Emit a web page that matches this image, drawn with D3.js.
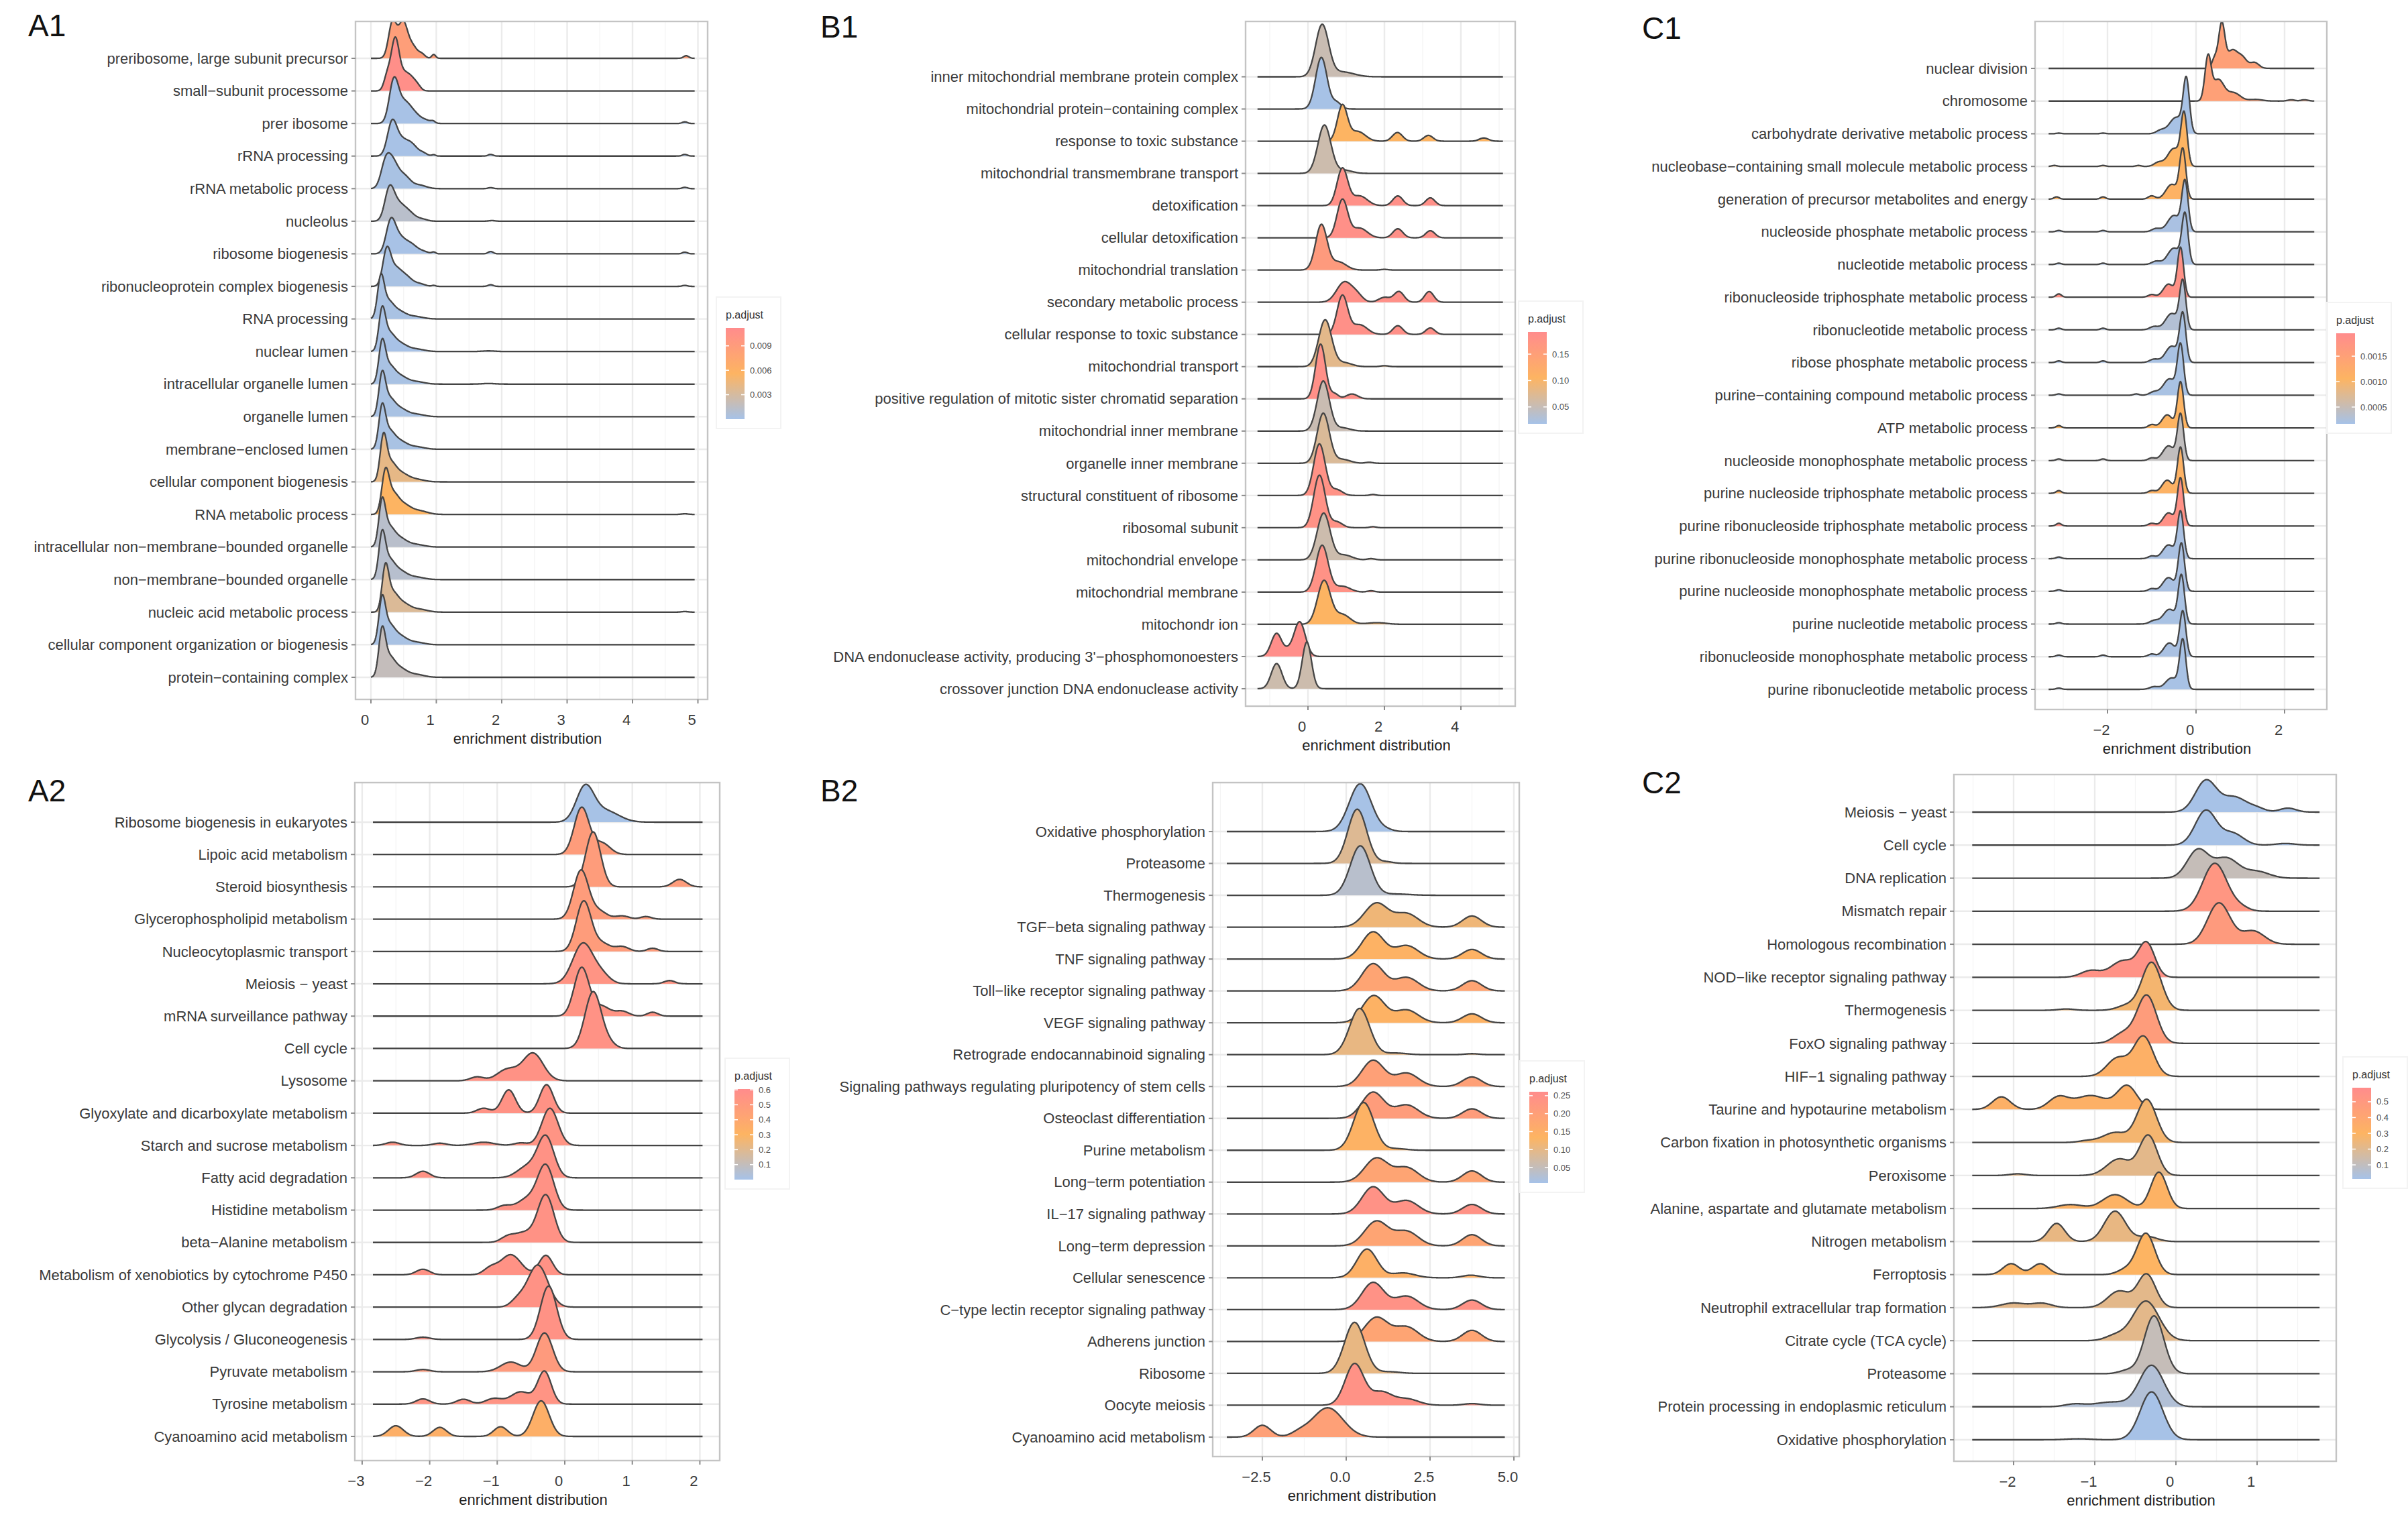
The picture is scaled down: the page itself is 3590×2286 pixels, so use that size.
<!DOCTYPE html>
<html>
<head>
<meta charset="utf-8">
<script src="https://cdn.jsdelivr.net/npm/d3@7"></script>
<style>
  body { margin: 0; background: #fff; }
  text { font-family: "Liberation Sans", Arial, sans-serif; }
</style>
</head>
<body>
<div id="chart"></div>
<script>
// ---- data ----
// each ridge is a list of bumps: [position, height (rows), spread]

// A1
const a1Terms = ["preribosome, large subunit precursor", "small\u2212subunit processome", "prer ibosome", "rRNA processing",
  "rRNA metabolic process", "nucleolus", "ribosome biogenesis", "ribonucleoprotein complex biogenesis", "RNA processing",
  "nuclear lumen", "intracellular organelle lumen", "organelle lumen", "membrane\u2212enclosed lumen",
  "cellular component biogenesis", "RNA metabolic process", "intracellular non\u2212membrane\u2212bounded organelle",
  "non\u2212membrane\u2212bounded organelle", "nucleic acid metabolic process", "cellular component organization or biogenesis",
  "protein\u2212containing complex"];
const a1Padj = [0.0087, 0.0108, 0.0001, 0.0001, 0.0002, 0.0012, 0.0001, 0.0002, 0.0002, 0.0001,
  0.0002, 0.0002, 0.0002, 0.0041, 0.0056, 0.0012, 0.0011, 0.0034, 0.0002, 0.0019];
const a1Peaks = [
  [[0.33, 1.1, 0.06], [0.49, 1.1, 0.07], [0.64, 0.35, 0.07], [0.78, 0.12, 0.05], [0.96, 0.12, 0.03], [4.82, 0.08, 0.04]],
  [[0.37, 1.55, 0.06], [0.25, 0.45, 0.05], [0.5, 0.45, 0.07], [0.62, 0.35, 0.07], [0.72, 0.1, 0.05]],
  [[0.35, 1.28, 0.07], [0.5, 0.55, 0.09], [0.65, 0.3, 0.1], [0.85, 0.08, 0.08], [0.95, 0.05, 0.03], [4.8, 0.05, 0.04]],
  [[0.32, 0.95, 0.07], [0.45, 0.45, 0.09], [0.62, 0.35, 0.09], [0.8, 0.08, 0.06], [0.96, 0.04, 0.03], [1.83, 0.05, 0.04], [4.8, 0.05, 0.04]],
  [[0.22, 0.7, 0.07], [0.33, 0.7, 0.08], [0.5, 0.4, 0.1], [0.75, 0.1, 0.1], [1.83, 0.03, 0.04], [4.8, 0.04, 0.04]],
  [[0.28, 0.9, 0.07], [0.4, 0.45, 0.09], [0.56, 0.3, 0.1], [0.78, 0.06, 0.08], [1.85, 0.02, 0.05]],
  [[0.3, 0.9, 0.07], [0.42, 0.45, 0.09], [0.6, 0.3, 0.1], [0.8, 0.06, 0.08], [0.96, 0.05, 0.03], [1.83, 0.07, 0.04], [4.8, 0.05, 0.04]],
  [[0.24, 1.0, 0.06], [0.36, 0.5, 0.09], [0.53, 0.3, 0.1], [0.75, 0.07, 0.08], [0.96, 0.03, 0.03], [1.83, 0.05, 0.04], [4.8, 0.03, 0.04]],
  [[0.15, 1.15, 0.05], [0.25, 0.44, 0.08], [0.4, 0.26, 0.12], [0.68, 0.07, 0.12]],
  [[0.17, 1.15, 0.05], [0.27, 0.45, 0.08], [0.42, 0.27, 0.12], [0.7, 0.07, 0.12], [1.8, 0.02, 0.1]],
  [[0.17, 1.15, 0.05], [0.27, 0.45, 0.08], [0.42, 0.27, 0.12], [0.7, 0.07, 0.12], [1.8, 0.02, 0.1]],
  [[0.17, 1.17, 0.05], [0.27, 0.45, 0.08], [0.42, 0.27, 0.12], [0.7, 0.07, 0.12]],
  [[0.17, 1.17, 0.05], [0.27, 0.45, 0.08], [0.42, 0.27, 0.12], [0.7, 0.07, 0.12]],
  [[0.19, 1.25, 0.05], [0.29, 0.48, 0.08], [0.44, 0.28, 0.12], [0.7, 0.07, 0.12]],
  [[0.22, 1.2, 0.055], [0.33, 0.5, 0.08], [0.48, 0.32, 0.12], [0.75, 0.1, 0.12], [4.8, 0.02, 0.05]],
  [[0.17, 1.26, 0.05], [0.27, 0.49, 0.08], [0.42, 0.29, 0.12], [0.7, 0.07, 0.12]],
  [[0.17, 1.26, 0.05], [0.27, 0.49, 0.08], [0.42, 0.29, 0.12], [0.7, 0.07, 0.12]],
  [[0.22, 1.25, 0.05], [0.32, 0.48, 0.08], [0.47, 0.29, 0.12], [0.75, 0.08, 0.12], [4.8, 0.02, 0.05]],
  [[0.17, 1.26, 0.05], [0.27, 0.49, 0.08], [0.42, 0.29, 0.12], [0.7, 0.07, 0.12]],
  [[0.17, 1.3, 0.05], [0.27, 0.5, 0.08], [0.42, 0.3, 0.12], [0.7, 0.08, 0.12]]
];
const a1Range = [0, 4.95];
const a1Ticks = [0, 1, 2, 3, 4, 5];
const a1LegendTicks = [0.003, 0.006, 0.009];
const a1LegendDomain = [0, 0.0112];

// B1
const b1Terms = ["inner mitochondrial membrane protein complex", "mitochondrial protein\u2212containing complex",
  "response to toxic substance", "mitochondrial transmembrane transport", "detoxification", "cellular detoxification",
  "mitochondrial translation", "secondary metabolic process", "cellular response to toxic substance",
  "mitochondrial transport", "positive regulation of mitotic sister chromatid separation", "mitochondrial inner membrane",
  "organelle inner membrane", "structural constituent of ribosome", "ribosomal subunit", "mitochondrial envelope",
  "mitochondrial membrane", "mitochondr ion", "DNA endonuclease activity, producing 3'\u2212phosphomonoesters",
  "crossover junction DNA endonuclease activity"];
const b1Padj = [0.053, 0.019, 0.105, 0.056, 0.183, 0.183, 0.161, 0.183, 0.183, 0.079,
  0.183, 0.053, 0.070, 0.180, 0.180, 0.056, 0.180, 0.105, 0.187, 0.056];
const b1Peaks = [
  [[0.37, 1.6, 0.17], [0.9, 0.15, 0.3]],
  [[0.35, 1.6, 0.15], [0.75, 0.2, 0.12]],
  [[0.9, 1.1, 0.13], [1.3, 0.3, 0.2], [2.34, 0.27, 0.13], [3.15, 0.18, 0.12], [4.6, 0.1, 0.12]],
  [[0.43, 1.5, 0.17], [0.95, 0.1, 0.2]],
  [[0.9, 1.15, 0.14], [1.35, 0.3, 0.2], [2.35, 0.3, 0.13], [3.2, 0.24, 0.12]],
  [[0.9, 1.18, 0.14], [1.35, 0.3, 0.2], [2.35, 0.28, 0.13], [3.2, 0.22, 0.12]],
  [[0.35, 1.4, 0.15], [0.8, 0.25, 0.2], [2.0, 0.02, 0.1]],
  [[0.95, 0.62, 0.2], [1.28, 0.2, 0.15], [2.0, 0.15, 0.15], [2.38, 0.33, 0.13], [3.17, 0.33, 0.12]],
  [[0.9, 1.2, 0.14], [1.35, 0.3, 0.2], [2.35, 0.27, 0.13], [3.2, 0.2, 0.12]],
  [[0.45, 1.45, 0.17], [0.95, 0.12, 0.2], [2.0, 0.03, 0.1]],
  [[0.33, 1.7, 0.13], [0.7, 0.15, 0.1], [1.15, 0.15, 0.15]],
  [[0.4, 1.55, 0.16], [0.9, 0.1, 0.2]],
  [[0.4, 1.55, 0.16], [0.9, 0.12, 0.2], [1.6, 0.03, 0.1]],
  [[0.3, 1.6, 0.15], [0.75, 0.18, 0.15], [1.7, 0.03, 0.08]],
  [[0.3, 1.63, 0.15], [0.75, 0.18, 0.15], [1.7, 0.03, 0.08]],
  [[0.41, 1.45, 0.17], [0.95, 0.15, 0.2], [1.65, 0.04, 0.1]],
  [[0.37, 1.45, 0.16], [0.9, 0.18, 0.2], [1.65, 0.04, 0.1]],
  [[0.42, 1.35, 0.17], [0.9, 0.3, 0.2], [1.8, 0.05, 0.25]],
  [[-0.82, 0.72, 0.14], [-0.22, 1.08, 0.15], [-0.52, 0.12, 0.1]],
  [[-0.82, 0.78, 0.14], [-0.03, 1.45, 0.12]]
];
const b1Range = [-1.32, 5.1];
const b1Ticks = [0, 2, 4];
const b1LegendTicks = [0.05, 0.10, 0.15];
const b1LegendDomain = [0.018, 0.192];

// C1
const c1Terms = ["nuclear division", "chromosome", "carbohydrate derivative metabolic process",
  "nucleobase\u2212containing small molecule metabolic process", "generation of precursor metabolites and energy",
  "nucleoside phosphate metabolic process", "nucleotide metabolic process", "ribonucleoside triphosphate metabolic process",
  "ribonucleotide metabolic process", "ribose phosphate metabolic process", "purine\u2212containing compound metabolic process",
  "ATP metabolic process", "nucleoside monophosphate metabolic process", "purine nucleoside triphosphate metabolic process",
  "purine ribonucleoside triphosphate metabolic process", "purine ribonucleoside monophosphate metabolic process",
  "purine nucleoside monophosphate metabolic process", "purine nucleotide metabolic process",
  "ribonucleoside monophosphate metabolic process", "purine ribonucleotide metabolic process"];
const c1Padj = [0.00150, 0.00150, 0.00019, 0.00106, 0.00110, 0.00021, 0.00021, 0.00183, 0.00030, 0.00020,
  0.00020, 0.00106, 0.00045, 0.00110, 0.00183, 0.00021, 0.00021, 0.00020, 0.00021, 0.00019];
const c1Peaks = [
  [[0.58, 1.35, 0.07], [0.42, 0.3, 0.06], [0.82, 0.55, 0.12], [1.05, 0.3, 0.1], [1.32, 0.18, 0.1]],
  [[0.27, 1.3, 0.07], [0.5, 0.65, 0.13], [0.85, 0.25, 0.15], [1.35, 0.05, 0.15], [2.15, 0.04, 0.08], [2.45, 0.04, 0.08]],
  [[-0.22, 1.6, 0.07], [-0.45, 0.5, 0.15], [-0.8, 0.1, 0.1], [-2.1, 0.02, 0.06], [-3.1, 0.02, 0.06]],
  [[-0.27, 1.55, 0.07], [-0.5, 0.55, 0.14], [-0.85, 0.12, 0.1], [-3.2, 0.03, 0.06], [-2.1, 0.03, 0.06], [-1.3, 0.03, 0.06]],
  [[-0.3, 1.5, 0.07], [-0.55, 0.45, 0.13], [-1.0, 0.1, 0.08], [-3.15, 0.07, 0.06], [-2.1, 0.07, 0.06]],
  [[-0.25, 1.5, 0.07], [-0.5, 0.5, 0.14], [-0.9, 0.1, 0.1], [-3.1, 0.04, 0.06], [-2.1, 0.04, 0.06]],
  [[-0.25, 1.5, 0.07], [-0.5, 0.5, 0.14], [-0.9, 0.1, 0.1], [-3.1, 0.04, 0.06], [-2.1, 0.04, 0.06]],
  [[-0.35, 1.5, 0.07], [-0.62, 0.4, 0.12], [-1.0, 0.08, 0.08], [-3.1, 0.1, 0.06]],
  [[-0.3, 1.45, 0.07], [-0.55, 0.5, 0.14], [-0.95, 0.1, 0.1], [-3.1, 0.05, 0.06], [-2.1, 0.05, 0.06]],
  [[-0.3, 1.45, 0.07], [-0.55, 0.5, 0.14], [-0.95, 0.1, 0.1], [-3.1, 0.05, 0.06], [-2.1, 0.05, 0.06]],
  [[-0.35, 1.5, 0.07], [-0.6, 0.5, 0.14], [-0.95, 0.1, 0.1], [-3.1, 0.04, 0.06], [-1.35, 0.04, 0.06]],
  [[-0.35, 1.4, 0.07], [-0.65, 0.4, 0.12], [-1.0, 0.1, 0.08], [-3.1, 0.07, 0.06]],
  [[-0.35, 1.4, 0.07], [-0.62, 0.45, 0.13], [-1.0, 0.08, 0.08], [-3.1, 0.05, 0.06], [-2.1, 0.05, 0.06]],
  [[-0.35, 1.4, 0.07], [-0.65, 0.4, 0.12], [-1.0, 0.08, 0.08], [-3.1, 0.08, 0.06]],
  [[-0.35, 1.45, 0.07], [-0.62, 0.4, 0.12], [-1.0, 0.08, 0.08], [-3.1, 0.08, 0.06]],
  [[-0.35, 1.42, 0.07], [-0.62, 0.42, 0.13], [-1.0, 0.08, 0.08], [-3.1, 0.05, 0.06]],
  [[-0.33, 1.45, 0.07], [-0.62, 0.42, 0.13], [-1.0, 0.08, 0.08], [-3.1, 0.05, 0.06]],
  [[-0.33, 1.45, 0.07], [-0.6, 0.45, 0.14], [-0.95, 0.1, 0.1], [-3.1, 0.04, 0.06]],
  [[-0.3, 1.38, 0.07], [-0.6, 0.42, 0.13], [-1.0, 0.08, 0.08], [-3.1, 0.05, 0.06], [-2.1, 0.05, 0.06]],
  [[-0.3, 1.48, 0.07], [-0.55, 0.35, 0.14], [-0.95, 0.08, 0.1], [-3.1, 0.04, 0.06]]
];
const c1Range = [-3.33, 2.67];
const c1Ticks = [-2, 0, 2];
const c1LegendTicks = [0.0005, 0.0010, 0.0015];
const c1LegendDomain = [0.00017, 0.00195];

// A2
const a2Terms = ["Ribosome biogenesis in eukaryotes", "Lipoic acid metabolism", "Steroid biosynthesis",
  "Glycerophospholipid metabolism", "Nucleocytoplasmic transport", "Meiosis \u2212 yeast", "mRNA surveillance pathway",
  "Cell cycle", "Lysosome", "Glyoxylate and dicarboxylate metabolism", "Starch and sucrose metabolism",
  "Fatty acid degradation", "Histidine metabolism", "beta\u2212Alanine metabolism",
  "Metabolism of xenobiotics by cytochrome P450", "Other glycan degradation", "Glycolysis / Gluconeogenesis",
  "Pyruvate metabolism", "Tyrosine metabolism", "Cyanoamino acid metabolism"];
const a2Padj = [0.005, 0.484, 0.484, 0.484, 0.484, 0.545, 0.545, 0.557, 0.557, 0.557,
  0.545, 0.557, 0.557, 0.557, 0.557, 0.557, 0.557, 0.496, 0.545, 0.340];
const a2Peaks = [
  [[0.3, 1.05, 0.13], [0.6, 0.35, 0.2]],
  [[0.25, 1.45, 0.11], [0.55, 0.35, 0.12]],
  [[0.42, 1.7, 0.11], [1.7, 0.23, 0.1]],
  [[0.24, 1.5, 0.11], [0.5, 0.25, 0.12], [0.85, 0.1, 0.1], [1.2, 0.08, 0.08]],
  [[0.28, 1.55, 0.11], [0.55, 0.25, 0.12], [0.85, 0.15, 0.1], [1.3, 0.1, 0.08]],
  [[0.27, 1.25, 0.15], [0.55, 0.25, 0.12], [1.55, 0.1, 0.08]],
  [[0.25, 1.5, 0.11], [0.55, 0.3, 0.12], [0.85, 0.15, 0.1], [1.3, 0.12, 0.08]],
  [[0.42, 1.75, 0.12], [0.65, 0.15, 0.1]],
  [[-0.47, 0.85, 0.15], [-0.85, 0.35, 0.15], [-1.3, 0.12, 0.1]],
  [[-0.83, 0.72, 0.1], [-0.27, 0.88, 0.1], [-1.2, 0.15, 0.1]],
  [[-0.22, 1.15, 0.12], [-2.55, 0.1, 0.1], [-1.85, 0.07, 0.1], [-1.2, 0.1, 0.15], [-0.65, 0.08, 0.1]],
  [[-0.28, 1.25, 0.12], [-0.55, 0.35, 0.15], [-2.1, 0.2, 0.1]],
  [[-0.28, 1.35, 0.12], [-0.55, 0.35, 0.15], [-0.9, 0.13, 0.1]],
  [[-0.28, 1.45, 0.12], [-0.6, 0.3, 0.15], [-0.85, 0.15, 0.1]],
  [[-0.8, 0.62, 0.15], [-0.28, 0.6, 0.1], [-1.1, 0.2, 0.1], [-2.1, 0.17, 0.1]],
  [[-0.4, 1.3, 0.15], [-0.7, 0.2, 0.1]],
  [[-0.24, 1.65, 0.12], [-2.1, 0.07, 0.1]],
  [[-0.3, 1.2, 0.12], [-0.8, 0.3, 0.15], [-2.1, 0.07, 0.1]],
  [[-0.3, 1.0, 0.1], [-0.65, 0.38, 0.15], [-1.05, 0.17, 0.12], [-1.5, 0.15, 0.1], [-2.1, 0.16, 0.1]],
  [[-0.35, 1.1, 0.12], [-0.95, 0.3, 0.1], [-1.85, 0.28, 0.1], [-2.5, 0.33, 0.11]]
];
const a2Range = [-2.84, 2.04];
const a2Ticks = [-3, -2, -1, 0, 1, 2];
const a2LegendTicks = [0.1, 0.2, 0.3, 0.4, 0.5, 0.6];
const a2LegendDomain = [0, 0.605];

// B2
const b2Terms = ["Oxidative phosphorylation", "Proteasome", "Thermogenesis", "TGF\u2212beta signaling pathway",
  "TNF signaling pathway", "Toll\u2212like receptor signaling pathway", "VEGF signaling pathway",
  "Retrograde endocannabinoid signaling", "Signaling pathways regulating pluripotency of stem cells",
  "Osteoclast differentiation", "Purine metabolism", "Long\u2212term potentiation", "IL\u221217 signaling pathway",
  "Long\u2212term depression", "Cellular senescence", "C\u2212type lectin receptor signaling pathway",
  "Adherens junction", "Ribosome", "Oocyte meiosis", "Cyanoamino acid metabolism"];
const b2Padj = [0.009, 0.088, 0.034, 0.114, 0.139, 0.185, 0.139, 0.104, 0.198, 0.210,
  0.139, 0.185, 0.243, 0.185, 0.147, 0.243, 0.185, 0.104, 0.243, 0.198];
const b2Peaks = [
  [[0.42, 1.5, 0.33], [1.2, 0.05, 0.2]],
  [[0.33, 1.7, 0.28], [1.2, 0.05, 0.2]],
  [[0.42, 1.55, 0.3], [1.5, 0.04, 0.4]],
  [[0.9, 0.75, 0.35], [1.8, 0.42, 0.35], [3.75, 0.35, 0.28]],
  [[0.8, 0.85, 0.33], [1.8, 0.42, 0.35], [3.75, 0.3, 0.28]],
  [[0.8, 0.85, 0.33], [1.8, 0.42, 0.35], [3.75, 0.32, 0.28]],
  [[0.82, 0.85, 0.33], [1.8, 0.4, 0.35], [3.75, 0.28, 0.28]],
  [[0.4, 1.45, 0.3], [1.5, 0.05, 0.3], [3.75, 0.03, 0.2]],
  [[0.8, 0.82, 0.33], [1.8, 0.42, 0.35], [3.75, 0.3, 0.28]],
  [[0.8, 0.82, 0.33], [1.8, 0.42, 0.35], [3.75, 0.3, 0.28]],
  [[0.52, 1.5, 0.3], [1.5, 0.05, 0.3]],
  [[0.9, 0.75, 0.35], [1.8, 0.45, 0.35], [3.75, 0.35, 0.28]],
  [[0.8, 0.85, 0.33], [1.8, 0.42, 0.35], [3.75, 0.3, 0.28]],
  [[0.9, 0.77, 0.35], [1.8, 0.45, 0.35], [3.75, 0.35, 0.28]],
  [[0.62, 0.9, 0.3], [1.7, 0.15, 0.35], [3.72, 0.08, 0.25]],
  [[0.8, 0.85, 0.33], [1.8, 0.42, 0.35], [3.75, 0.3, 0.28]],
  [[0.9, 0.75, 0.35], [1.8, 0.45, 0.35], [3.75, 0.35, 0.28]],
  [[0.25, 1.6, 0.3], [1.3, 0.05, 0.3]],
  [[0.25, 1.3, 0.28], [1.05, 0.4, 0.3], [1.8, 0.2, 0.35], [3.75, 0.05, 0.25]],
  [[-0.55, 0.92, 0.45], [-2.5, 0.37, 0.25], [-1.4, 0.12, 0.25]]
];
const b2Range = [-3.56, 4.73];
const b2Ticks = [-2.5, 0, 2.5, 5];
const b2LegendTicks = [0.05, 0.10, 0.15, 0.20, 0.25];
const b2LegendDomain = [0.007, 0.261];

// C2
const c2Terms = ["Meiosis \u2212 yeast", "Cell cycle", "DNA replication", "Mismatch repair", "Homologous recombination",
  "NOD\u2212like receptor signaling pathway", "Thermogenesis", "FoxO signaling pathway", "HIF\u22121 signaling pathway",
  "Taurine and hypotaurine metabolism", "Carbon fixation in photosynthetic organisms", "Peroxisome",
  "Alanine, aspartate and glutamate metabolism", "Nitrogen metabolism", "Ferroptosis",
  "Neutrophil extracellular trap formation", "Citrate cycle (TCA cycle)", "Proteasome",
  "Protein processing in endoplasmic reticulum", "Oxidative phosphorylation"];
const c2Padj = [0.014, 0.014, 0.115, 0.520, 0.485, 0.549, 0.271, 0.473, 0.329, 0.329,
  0.271, 0.213, 0.312, 0.231, 0.300, 0.213, 0.213, 0.115, 0.050, 0.014];
const c2Peaks = [
  [[0.37, 0.95, 0.13], [0.72, 0.45, 0.15], [1.0, 0.1, 0.1], [1.38, 0.12, 0.1]],
  [[0.37, 1.05, 0.13], [0.7, 0.35, 0.13], [1.35, 0.05, 0.12]],
  [[0.27, 0.85, 0.13], [0.62, 0.6, 0.15], [1.0, 0.2, 0.15]],
  [[0.48, 1.45, 0.15], [0.8, 0.1, 0.1]],
  [[0.53, 1.25, 0.14], [0.95, 0.4, 0.14]],
  [[-0.36, 1.0, 0.1], [-0.65, 0.5, 0.15], [-1.05, 0.2, 0.12]],
  [[-0.3, 1.45, 0.12], [-0.6, 0.15, 0.12], [-1.35, 0.04, 0.1]],
  [[-0.36, 1.45, 0.12], [-0.65, 0.3, 0.12]],
  [[-0.4, 1.2, 0.12], [-0.72, 0.55, 0.13]],
  [[-0.6, 0.7, 0.12], [-1.05, 0.42, 0.2], [-1.45, 0.35, 0.12], [-2.15, 0.38, 0.11]],
  [[-0.36, 1.3, 0.12], [-0.75, 0.3, 0.15], [-1.1, 0.05, 0.1]],
  [[-0.34, 1.2, 0.11], [-0.7, 0.5, 0.15], [-1.95, 0.05, 0.1]],
  [[-0.21, 1.1, 0.1], [-0.75, 0.42, 0.15], [-1.3, 0.12, 0.15]],
  [[-0.75, 0.92, 0.13], [-1.47, 0.55, 0.1], [-0.35, 0.15, 0.12]],
  [[-0.37, 1.25, 0.11], [-2.03, 0.33, 0.1], [-1.67, 0.33, 0.1], [-0.62, 0.15, 0.1]],
  [[-0.36, 1.0, 0.11], [-0.7, 0.5, 0.14], [-2.0, 0.14, 0.15], [-1.65, 0.13, 0.12]],
  [[-0.37, 1.2, 0.16], [-0.75, 0.15, 0.12]],
  [[-0.27, 1.75, 0.12], [-0.6, 0.1, 0.1]],
  [[-0.3, 1.25, 0.15], [-0.8, 0.14, 0.2], [-1.25, 0.08, 0.12]],
  [[-0.3, 1.45, 0.14], [-1.2, 0.03, 0.15]]
];
const c2Range = [-2.51, 1.77];
const c2Ticks = [-2, -1, 0, 1];
const c2LegendTicks = [0.1, 0.2, 0.3, 0.4, 0.5];
const c2LegendDomain = [0.011, 0.589];

// ---- layout (pixel positions) ----
const panels = [
  { tag: "A1", terms: a1Terms, padj: a1Padj, peaks: a1Peaks, range: a1Range, ticks: a1Ticks, tickFmt: d3.format("d"),
    legTicks: a1LegendTicks, legFmt: d3.format(".3f"), legDomain: a1LegendDomain,
    l: 530, r: 1055, t: 32, b: 1043, zero: 553, unit: 97.5, rowTop: 87, rowBot: 1010,
    legX: 1082, legTop: 489, legBot: 625, tagX: 42, tagY: 54 },
  { tag: "B1", terms: b1Terms, padj: b1Padj, peaks: b1Peaks, range: b1Range, ticks: b1Ticks, tickFmt: d3.format("d"),
    legTicks: b1LegendTicks, legFmt: d3.format(".2f"), legDomain: b1LegendDomain,
    l: 1857, r: 2259, t: 32, b: 1053, zero: 1950, unit: 57, rowTop: 114.5, rowBot: 1027,
    legX: 2278, legTop: 495, legBot: 632, tagX: 1223, tagY: 56 },
  { tag: "C1", terms: c1Terms, padj: c1Padj, peaks: c1Peaks, range: c1Range, ticks: c1Ticks, tickFmt: d3.format("d"),
    legTicks: c1LegendTicks, legFmt: d3.format(".4f"), legDomain: c1LegendDomain,
    l: 3034, r: 3469, t: 32, b: 1058, zero: 3274, unit: 66, rowTop: 102, rowBot: 1028,
    legX: 3483, legTop: 497, legBot: 632, tagX: 2448, tagY: 58 },
  { tag: "A2", terms: a2Terms, padj: a2Padj, peaks: a2Peaks, range: a2Range, ticks: a2Ticks, tickFmt: d3.format("d"),
    legTicks: a2LegendTicks, legFmt: d3.format(".1f"), legDomain: a2LegendDomain,
    l: 529, r: 1073, t: 1167, b: 2178, zero: 842, unit: 100.7, rowTop: 1226, rowBot: 2142,
    legX: 1095, legTop: 1624, legBot: 1759, tagX: 42, tagY: 1195 },
  { tag: "B2", terms: b2Terms, padj: b2Padj, peaks: b2Peaks, range: b2Range, ticks: b2Ticks, tickFmt: d3.format(".1f"),
    legTicks: b2LegendTicks, legFmt: d3.format(".2f"), legDomain: b2LegendDomain,
    l: 1808, r: 2265, t: 1167, b: 2172, zero: 2007, unit: 50, rowTop: 1240, rowBot: 2143,
    legX: 2280, legTop: 1628, legBot: 1764, tagX: 1223, tagY: 1195 },
  { tag: "C2", terms: c2Terms, padj: c2Padj, peaks: c2Peaks, range: c2Range, ticks: c2Ticks, tickFmt: d3.format("d"),
    legTicks: c2LegendTicks, legFmt: d3.format(".1f"), legDomain: c2LegendDomain,
    l: 2913, r: 3483, t: 1155, b: 2179, zero: 3244, unit: 121, rowTop: 1211, rowBot: 2147,
    legX: 3507, legTop: 1622, legBot: 1758, tagX: 2448, tagY: 1183 }
];

const W = 3590, H = 2286;
const lowCol = "#A6C2E8", midCol = "#FDB462", highCol = "#FF8C8C";
const textCol = "#3a3a3a";

const svg = d3.select("#chart").append("svg")
  .attr("width", W).attr("height", H)
  .attr("viewBox", `0 0 ${W} ${H}`);
svg.append("rect").attr("width", W).attr("height", H).attr("fill", "#fff");
const defs = svg.append("defs");

function density(bumps, x) {
  let s = 0;
  bumps.forEach(([c, h, sd]) => { s += h * Math.exp(-0.5 * ((x - c) / sd) ** 2); });
  return s;
}

panels.forEach((p, pi) => {
  const x = d3.scaleLinear()
    .domain([(p.l - p.zero) / p.unit, (p.r - p.zero) / p.unit])
    .range([p.l, p.r]);
  const y = d3.scalePoint().domain(p.terms).range([p.rowTop, p.rowBot]);
  const step = (p.rowBot - p.rowTop) / (p.terms.length - 1);
  const hgt = d3.scaleLinear().domain([0, 1]).range([0, step]);
  const [lo, hi] = p.legDomain;
  const color = d3.scaleLinear().domain([lo, (lo + hi) / 2, hi]).range([lowCol, midCol, highCol]);

  const g = svg.append("g");

  defs.append("clipPath").attr("id", "clip" + pi)
    .append("rect").attr("x", p.l).attr("y", p.t).attr("width", p.r - p.l).attr("height", p.b - p.t);

  // grid
  const major = p.ticks;
  const d = major[1] - major[0];
  const ext = [major[0] - d, ...major, major[major.length - 1] + d];
  const minor = d3.range(ext.length - 1).map(i => (ext[i] + ext[i + 1]) / 2)
    .filter(v => v > x.domain()[0] && v < x.domain()[1]);
  g.selectAll(".minor").data(minor).join("line")
    .attr("x1", v => x(v)).attr("x2", v => x(v)).attr("y1", p.t).attr("y2", p.b)
    .attr("stroke", "#F4F4F4").attr("stroke-width", 1.2);
  g.selectAll(".major").data(major).join("line")
    .attr("x1", v => x(v)).attr("x2", v => x(v)).attr("y1", p.t).attr("y2", p.b)
    .attr("stroke", "#EBEBEB").attr("stroke-width", 2.4);
  g.selectAll(".hgrid").data(p.terms).join("line")
    .attr("x1", p.l).attr("x2", p.r).attr("y1", t => y(t)).attr("y2", t => y(t))
    .attr("stroke", "#EBEBEB").attr("stroke-width", 2.4);

  // ridges, top row first so lower rows overlap it
  const xs = d3.range(601).map(i => p.range[0] + i * (p.range[1] - p.range[0]) / 600);
  const ridges = g.append("g").attr("clip-path", `url(#clip${pi})`);
  p.terms.forEach((term, i) => {
    const base = y(term);
    const pts = xs.map(v => [v, density(p.peaks[i], v)]);
    const area = d3.area().x(e => x(e[0])).y0(base).y1(e => base - hgt(e[1]));
    const line = d3.line().x(e => x(e[0])).y(e => base - hgt(e[1]));
    ridges.append("path").attr("d", area(pts)).attr("fill", color(p.padj[i]));
    ridges.append("path").attr("d", line(pts)).attr("fill", "none")
      .attr("stroke", "#444").attr("stroke-width", 2.3).attr("stroke-linejoin", "round");
  });

  // panel border
  g.append("rect").attr("x", p.l).attr("y", p.t).attr("width", p.r - p.l).attr("height", p.b - p.t)
    .attr("fill", "none").attr("stroke", "#C4C4C4").attr("stroke-width", 2.4);

  // y axis
  g.selectAll(".ytick").data(p.terms).join("line")
    .attr("x1", p.l - 6).attr("x2", p.l).attr("y1", t => y(t)).attr("y2", t => y(t))
    .attr("stroke", "#8A8A8A").attr("stroke-width", 2);
  g.selectAll(".ylab").data(p.terms).join("text")
    .attr("x", p.l - 11).attr("y", t => y(t)).attr("dy", "0.35em")
    .attr("text-anchor", "end").attr("font-size", 22).attr("fill", textCol)
    .text(t => t);

  // x axis
  g.selectAll(".xtick").data(major).join("line")
    .attr("x1", v => x(v)).attr("x2", v => x(v)).attr("y1", p.b).attr("y2", p.b + 6)
    .attr("stroke", "#8A8A8A").attr("stroke-width", 2);
  g.selectAll(".xlab").data(major).join("text")
    .attr("x", v => x(v) - 9).attr("y", p.b + 38)
    .attr("text-anchor", "middle").attr("font-size", 22).attr("fill", textCol)
    .text(v => p.tickFmt(v));
  g.append("text").attr("x", (p.l + p.r) / 2 - 6).attr("y", p.b + 66)
    .attr("text-anchor", "middle").attr("font-size", 22).attr("fill", "#222")
    .text("enrichment distribution");

  // colour bar legend
  const gradId = "grad" + pi;
  const grad = defs.append("linearGradient").attr("id", gradId)
    .attr("x1", 0).attr("y1", 1).attr("x2", 0).attr("y2", 0);
  d3.range(11).forEach(k => {
    grad.append("stop").attr("offset", k / 10).attr("stop-color", color(lo + (hi - lo) * k / 10));
  });
  const ly = d3.scaleLinear().domain([lo, hi]).range([p.legBot, p.legTop]);
  const lg = g.append("g");
  lg.append("rect").attr("x", p.legX - 14).attr("y", p.legTop - 46)
    .attr("width", 96).attr("height", p.legBot - p.legTop + 60)
    .attr("fill", "none").attr("stroke", "#F3F3F3").attr("stroke-width", 2);
  lg.append("text").attr("x", p.legX).attr("y", p.legTop - 14)
    .attr("font-size", 16).attr("fill", "#333").text("p.adjust");
  lg.append("rect").attr("x", p.legX).attr("y", p.legTop).attr("width", 28).attr("height", p.legBot - p.legTop)
    .attr("fill", `url(#${gradId})`);
  lg.selectAll(".lt").data(p.legTicks).join("g").each(function (v) {
    const s = d3.select(this);
    s.append("line").attr("x1", p.legX).attr("x2", p.legX + 5).attr("y1", ly(v)).attr("y2", ly(v))
      .attr("stroke", "#fff").attr("stroke-width", 1.5);
    s.append("line").attr("x1", p.legX + 23).attr("x2", p.legX + 28).attr("y1", ly(v)).attr("y2", ly(v))
      .attr("stroke", "#fff").attr("stroke-width", 1.5);
    s.append("text").attr("x", p.legX + 36).attr("y", ly(v)).attr("dy", "0.35em")
      .attr("font-size", 13).attr("fill", "#4D4D4D").text(p.legFmt(v));
  });

  // panel tag
  svg.append("text").attr("x", p.tagX).attr("y", p.tagY)
    .attr("font-family", "Liberation Serif, Times New Roman, serif")
    .attr("font-size", 46).attr("fill", "#111").text(p.tag);
});
</script>
</body>
</html>
